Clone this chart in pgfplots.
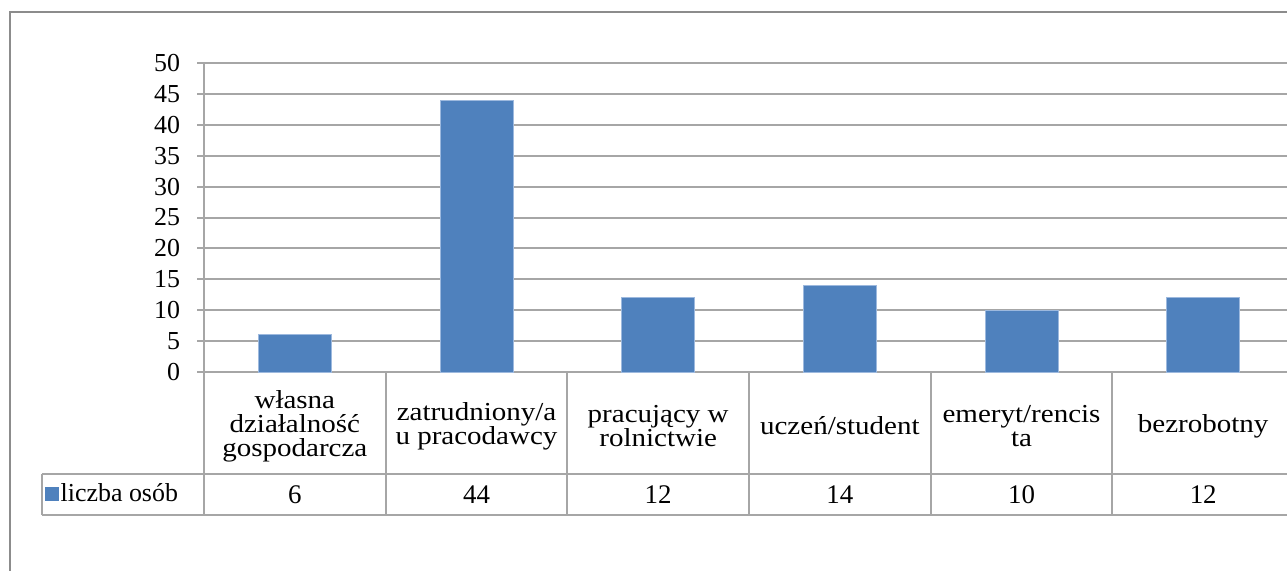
\documentclass[border=0pt]{standalone}
\usepackage{fontspec}
\setmainfont{Liberation Serif}
\newfontfamily\catfont{Liberation Serif}[FakeStretch=1.12]
\usepackage{pgfplots}
\pgfplotsset{compat=1.18}
\definecolor{barblue}{HTML}{4F81BD}
\definecolor{bartop}{HTML}{9DB9DE}
\definecolor{gridgray}{HTML}{A6A6A6}
\definecolor{framegray}{HTML}{8C8C8C}
\begin{document}
\begin{tikzpicture}[x=0.5bp,y=-0.5bp]
\useasboundingbox (0,0) rectangle (1287,571);
\draw[framegray, line width=1.2bp] (10,12) rectangle (1400,700);
\begin{axis}[
  at={(102bp,-186bp)}, anchor=south west,
  scale only axis, width=545bp, height=154.5bp,
  xmin=-0.5, xmax=5.5, ymin=0, ymax=50,
  ybar, bar width=36.5bp,
  /pgf/number format/assume math mode=true,
  xtick={0,1,2,3,4,5},
  xticklabels={{własna\\działalność\\gospodarcza},{zatrudniony/a\\u pracodawcy},{pracujący w\\rolnictwie},{uczeń/student},{emeryt/rencis\\ta},{bezrobotny}},
  xticklabel style={anchor=center, align=center, yshift=-23.5bp, font=\catfont\fontsize{13}{12}\selectfont},
  extra x ticks={0,1,2,3,4,5},
  extra x tick labels={6,44,12,14,10,12},
  extra x tick style={grid=none, major tick length=0pt, xticklabel style={yshift=-37.75bp, font=\fontsize{13.5}{13}\selectfont}},
  ytick={0,5,...,50},
  yticklabel style={font=\fontsize{13}{13}\selectfont, anchor=east, xshift=-5bp},
  ymajorgrids, grid style={gridgray, line width=1bp},
  axis x line*=bottom, axis y line*=left,
  axis line style={gridgray, line width=1bp},
  x tick style={draw=none},
  y tick style={gridgray, line width=1bp},
  tick align=outside, major tick length=3.5bp,
  clip=false,
  legend style={draw=none, fill=none, at={(-0.1465,-0.396)}, anchor=west, font=\fontsize{13}{13}\selectfont, inner sep=0pt, column sep=0pt, nodes={inner sep=1bp}},
]
\addplot[fill=barblue, draw=bartop, line width=0.5bp,
  legend image code/.code={\fill[barblue] (0bp,-3.25bp) rectangle (6.5bp,3.25bp);}]
  coordinates {(0,6) (1,44) (2,12) (3,14) (4,10) (5,12)};
\addlegendentry{liczba osób}
\end{axis}
% data table grid
\draw[gridgray, line width=1bp] (204,63) -- (204,515);
\foreach \x in {385.67,567.33,749,930.67,1112.33,1294}
  \draw[gridgray, line width=1bp] (\x,372) -- (\x,515);
\draw[gridgray, line width=1bp] (42,474) -- (1300,474);
\draw[gridgray, line width=1bp] (42,515) -- (1300,515);
\draw[gridgray, line width=1bp] (42,474) -- (42,515);
\end{tikzpicture}
\end{document}
